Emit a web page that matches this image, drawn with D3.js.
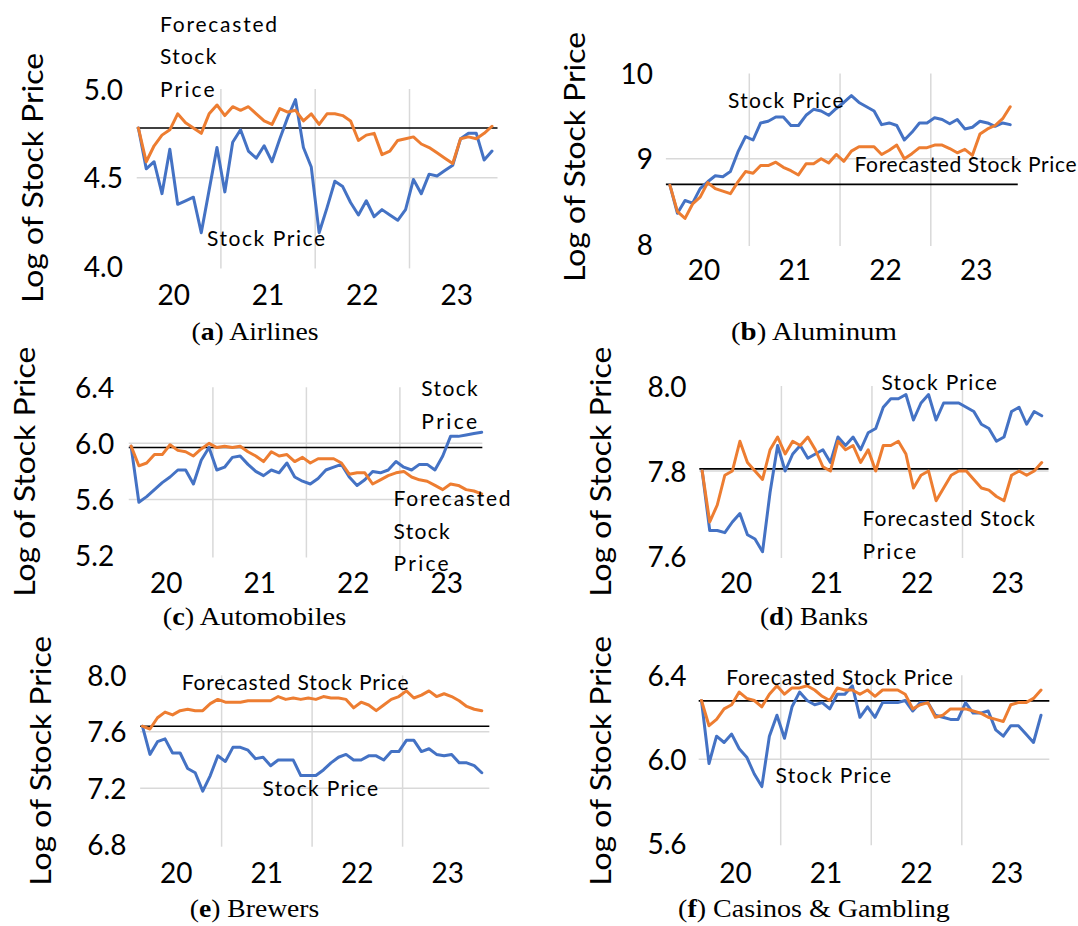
<!DOCTYPE html>
<html><head><meta charset="utf-8">
<script src="https://cdn.jsdelivr.net/npm/d3@7"></script>
<style>body{margin:0;background:#fff}svg{display:block}</style>
</head><body>
<svg id="chart" width="1078" height="926"></svg>
<script>
// ---------- data ----------
const monthIndex = d3.range(46);
const yearLabels = ["20", "21", "22", "23"];
const yearCenters = [4.5, 16.5, 28.5, 40.5];
const yearBreaks = [10.5, 22.5, 34.5];

const airlinesStock = [4.78,4.55,4.59,4.41,4.66,4.35,4.37,4.39,4.19,4.43,4.67,4.42,4.70,4.77,4.65,4.61,4.68,4.59,4.72,4.84,4.94,4.67,4.56,4.19,4.33,4.48,4.45,4.36,4.29,4.37,4.28,4.32,4.29,4.26,4.32,4.49,4.41,4.52,4.51,4.54,4.57,4.72,4.75,4.75,4.60,4.65];
const airlinesForecast = [4.78,4.59,4.68,4.74,4.77,4.86,4.81,4.78,4.75,4.86,4.91,4.85,4.90,4.88,4.90,4.86,4.82,4.80,4.89,4.87,4.88,4.82,4.86,4.80,4.86,4.86,4.85,4.82,4.71,4.74,4.75,4.63,4.65,4.71,4.72,4.73,4.69,4.67,4.64,4.61,4.58,4.72,4.73,4.72,4.75,4.79];

const aluminumStock = [8.69,8.36,8.51,8.48,8.65,8.73,8.80,8.79,8.85,9.08,9.26,9.22,9.42,9.44,9.49,9.49,9.39,9.39,9.51,9.58,9.56,9.51,9.59,9.66,9.74,9.66,9.61,9.56,9.40,9.42,9.39,9.22,9.31,9.42,9.42,9.48,9.46,9.41,9.46,9.35,9.37,9.44,9.42,9.38,9.42,9.40];
const aluminumForecast = [8.69,8.38,8.30,8.47,8.55,8.72,8.65,8.62,8.59,8.73,8.85,8.83,8.92,8.92,8.96,8.90,8.86,8.81,8.94,8.94,9.00,8.95,9.05,8.97,9.09,9.14,9.14,9.14,9.05,9.10,9.16,9.00,9.06,9.13,9.13,9.16,9.16,9.12,9.07,9.11,9.04,9.29,9.35,9.39,9.47,9.61];

const autoStock = [5.98,5.58,5.62,5.67,5.72,5.76,5.81,5.81,5.71,5.88,5.97,5.81,5.83,5.90,5.91,5.85,5.80,5.77,5.81,5.79,5.86,5.76,5.73,5.71,5.75,5.81,5.83,5.85,5.76,5.70,5.74,5.80,5.79,5.81,5.87,5.83,5.81,5.85,5.85,5.81,5.91,6.05,6.05,6.06,6.07,6.08];
const autoForecast = [5.98,5.84,5.86,5.92,5.92,5.99,5.95,5.94,5.91,5.96,6.00,5.97,5.98,5.97,5.98,5.94,5.91,5.87,5.94,5.91,5.92,5.87,5.90,5.86,5.89,5.89,5.89,5.86,5.78,5.79,5.79,5.71,5.74,5.77,5.79,5.80,5.76,5.74,5.73,5.70,5.67,5.71,5.70,5.67,5.66,5.64];

const banksStock = [7.80,7.66,7.66,7.655,7.68,7.70,7.65,7.64,7.61,7.75,7.86,7.80,7.84,7.86,7.83,7.84,7.85,7.82,7.88,7.86,7.88,7.85,7.89,7.90,7.95,7.97,7.97,7.98,7.92,7.96,7.98,7.92,7.96,7.96,7.96,7.95,7.94,7.91,7.90,7.87,7.88,7.94,7.95,7.91,7.94,7.93];
const banksForecast = [7.80,7.68,7.72,7.79,7.80,7.87,7.82,7.80,7.78,7.85,7.88,7.84,7.87,7.86,7.88,7.85,7.81,7.80,7.87,7.85,7.86,7.82,7.85,7.80,7.86,7.86,7.87,7.84,7.76,7.79,7.80,7.73,7.76,7.79,7.80,7.80,7.78,7.76,7.755,7.74,7.73,7.79,7.80,7.79,7.80,7.82];

const brewersStock = [7.64,7.44,7.53,7.55,7.45,7.45,7.34,7.31,7.18,7.29,7.43,7.39,7.49,7.49,7.47,7.41,7.42,7.36,7.40,7.40,7.40,7.29,7.29,7.29,7.33,7.38,7.42,7.44,7.40,7.40,7.43,7.43,7.40,7.46,7.46,7.54,7.54,7.46,7.48,7.44,7.43,7.44,7.38,7.38,7.36,7.31];
const brewersForecast = [7.64,7.62,7.70,7.74,7.72,7.75,7.76,7.75,7.75,7.80,7.83,7.81,7.81,7.81,7.82,7.82,7.82,7.82,7.85,7.83,7.84,7.83,7.84,7.83,7.85,7.84,7.84,7.83,7.77,7.81,7.79,7.75,7.79,7.83,7.85,7.89,7.84,7.86,7.89,7.85,7.87,7.85,7.82,7.78,7.76,7.75];

const casinosStock = [6.28,5.98,6.11,6.08,6.12,6.05,6.01,5.93,5.87,6.11,6.21,6.10,6.25,6.32,6.28,6.26,6.27,6.24,6.31,6.31,6.35,6.20,6.25,6.20,6.27,6.27,6.27,6.28,6.23,6.27,6.27,6.21,6.20,6.19,6.19,6.27,6.22,6.22,6.23,6.14,6.11,6.16,6.16,6.12,6.08,6.21];
const casinosForecast = [6.28,6.16,6.19,6.24,6.26,6.32,6.29,6.28,6.25,6.31,6.35,6.31,6.34,6.34,6.35,6.33,6.30,6.28,6.34,6.33,6.33,6.31,6.33,6.30,6.33,6.33,6.33,6.31,6.24,6.26,6.27,6.20,6.21,6.24,6.24,6.24,6.23,6.22,6.20,6.19,6.18,6.26,6.27,6.27,6.29,6.33];

const referenceLevels = [4.78, 8.70, 5.97, 7.805, 7.64, 6.278];
const panelLetters = ["a", "b", "c", "d", "e", "f"];
const panelNames = ["Airlines", "Aluminum", "Automobiles", "Banks", "Brewers", "Casinos & Gambling"];
const yDomains = [[4, 5], [8, 10], [5.2, 6.4], [7.6, 8.0], [6.8, 8.0], [5.6, 6.4]];
const yTickValues = [[4.0, 4.5, 5.0], [8, 9, 10], [5.2, 5.6, 6.0, 6.4], [7.6, 7.8, 8.0], [6.8, 7.2, 7.6, 8.0], [5.6, 6.0, 6.4]];
const yTickFormats = [".1f", "d", ".1f", ".1f", ".1f", ".1f"];
const stockSeries = [airlinesStock, aluminumStock, autoStock, banksStock, brewersStock, casinosStock];
const forecastSeries = [airlinesForecast, aluminumForecast, autoForecast, banksForecast, brewersForecast, casinosForecast];
const stockNoteLines = [["Stock Price"], ["Stock Price"], ["Stock", "Price"], ["Stock Price"], ["Stock Price"], ["Stock Price"]];
const forecastNoteLines = [["Forecasted", "Stock", "Price"], ["Forecasted Stock Price"], ["Forecasted", "Stock", "Price"], ["Forecasted Stock", "Price"], ["Forecasted Stock Price"], ["Forecasted Stock Price"]];
const axisTitle = "Log of Stock Price";

// ---------- layout (positions / sizes only) ----------
const layout = [
  {g1: 220.9, g3: 409.5, xl: -0.21, xr: 45.7, yr: [266.4, 89], tickR: 122.9, titleX: 43.3, titleY: 178, yearY: 305, capX: 255, capY: 340, capW: 127,
   stockNote: {x: 207, y: 245.7, w: [118]}, fcNote: {x: 160, y: 31.7, w: [117, 56.4, 54.7]}},
  {g1: 749.3, g3: 930.8, xl: -0.53, xr: 46.0, yr: [244, 73.5], tickR: 653.1, titleX: 584.8, titleY: 157, yearY: 280, capX: 814, capY: 340, capW: 166,
   stockNote: {x: 728, y: 108.3, w: [115.5]}, fcNote: {x: 854.5, y: 172.3, w: [222]}},
  {g1: 212.9, g3: 399.9, xl: -0.3, xr: 45.08, yr: [555.5, 387.3], tickR: 114.2, titleX: 34.6, titleY: 471.7, yearY: 593.3, capX: 254.5, capY: 625, capW: 183.5,
   stockNote: {x: 421.3, y: 396, w: [56.4, 55.7]}, fcNote: {x: 393.6, y: 506, w: [117, 56, 55]}},
  {g1: 781.4, g3: 962.5, xl: -0.38, xr: 45.9, yr: [556, 386], tickR: 686.6, titleX: 610.7, titleY: 471.7, yearY: 593.3, capX: 814, capY: 625, capW: 108,
   stockNote: {x: 881.4, y: 390, w: [115.5]}, fcNote: {x: 862.5, y: 526, w: [172.5, 53.5]}},
  {g1: 221.6, g3: 402.6, xl: -0.3, xr: 46.0, yr: [844.7, 675.4], tickR: 126.4, titleX: 51.2, titleY: 760.8, yearY: 883.3, capX: 254.5, capY: 916.5, capW: 129.5,
   stockNote: {x: 262.4, y: 795.7, w: [115.6]}, fcNote: {x: 181.7, y: 690, w: [226.8]}},
  {g1: 780.7, g3: 961.8, xl: -0.37, xr: 46.1, yr: [843.3, 675.3], tickR: 686.6, titleX: 610.7, titleY: 760.8, yearY: 883.3, capX: 814, capY: 916.5, capW: 271.8,
   stockNote: {x: 775.6, y: 782.7, w: [115.5]}, fcNote: {x: 726.2, y: 685, w: [226.6]}}
];
const noteLineHeight = 32.5;

const BLUE = "#4472C4", ORANGE = "#ED7D31", GRID = "#D9D9D9";
const SANS = "Lato, 'Open Sans', sans-serif";
const SERIF = "'Liberation Serif', 'DejaVu Serif', serif";

const svg = d3.select("#chart");

panelLetters.forEach((letter, p) => {
  const L = layout[p];
  const x = d3.scaleLinear().domain([yearBreaks[0], yearBreaks[2]]).range([L.g1, L.g3]);
  const y = d3.scaleLinear().domain(yDomains[p]).range(L.yr);
  const g = svg.append("g");
  const xLeft = x(L.xl), xRight = x(L.xr);
  const yTop = y(yDomains[p][1]), yBot = y(yDomains[p][0]);

  // horizontal inner gridlines
  const inner = yTickValues[p].slice(1, -1);
  g.selectAll(".hg").data(inner).join("line")
    .attr("x1", xLeft).attr("x2", xRight)
    .attr("y1", d => y(d)).attr("y2", d => y(d))
    .attr("stroke", GRID).attr("stroke-width", 1.5);

  // vertical year gridlines
  g.selectAll(".vg").data(yearBreaks).join("line")
    .attr("x1", d => x(d)).attr("x2", d => x(d))
    .attr("y1", yTop).attr("y2", yBot + 2)
    .attr("stroke", GRID).attr("stroke-width", 1.5);

  // reference line (starting value)
  g.append("line")
    .attr("x1", xLeft).attr("x2", xRight)
    .attr("y1", y(referenceLevels[p])).attr("y2", y(referenceLevels[p]))
    .attr("stroke", "#000").attr("stroke-width", 1.6);

  // y axis ticks
  const fmt = d3.format(yTickFormats[p]);
  const yAxis = d3.axisLeft(y).tickValues(yTickValues[p]).tickFormat(fmt).tickSize(0).tickPadding(0);
  const ya = g.append("g").attr("transform", `translate(${L.tickR},0)`).call(yAxis);
  ya.select(".domain").remove();
  ya.selectAll("text").attr("font-family", SANS).attr("font-size", 28).attr("fill", "#000")
    .attr("dy", "0.36em").attr("x", 0);

  // x axis year labels
  g.selectAll(".yl").data(yearLabels).join("text")
    .attr("x", (d, i) => x(yearCenters[i])).attr("y", L.yearY)
    .attr("text-anchor", "middle").attr("font-family", SANS).attr("font-size", 28).attr("fill", "#000")
    .text(d => d);

  // y axis title
  g.append("text")
    .attr("transform", `translate(${L.titleX},${L.titleY}) rotate(-90)`)
    .attr("text-anchor", "middle").attr("font-family", SANS).attr("font-size", 28).attr("fill", "#000")
    .attr("textLength", 250).attr("lengthAdjust", "spacingAndGlyphs")
    .text(axisTitle);

  // series lines
  const line = d3.line().x((d, i) => x(monthIndex[i])).y(d => y(d));
  g.append("path").datum(stockSeries[p]).attr("d", line)
    .attr("fill", "none").attr("stroke", BLUE).attr("stroke-width", 3).attr("stroke-linejoin", "round").attr("stroke-linecap", "round");
  g.append("path").datum(forecastSeries[p]).attr("d", line)
    .attr("fill", "none").attr("stroke", ORANGE).attr("stroke-width", 3).attr("stroke-linejoin", "round").attr("stroke-linecap", "round");

  // annotations
  const note = (lines, spec) => {
    lines.forEach((t, k) => {
      g.append("text").attr("x", spec.x).attr("y", spec.y + k * noteLineHeight)
        .attr("font-family", SANS).attr("font-size", 21).attr("fill", "#000")
        .attr("textLength", spec.w[k]).attr("lengthAdjust", "spacing")
        .text(t);
    });
  };
  note(stockNoteLines[p], L.stockNote);
  note(forecastNoteLines[p], L.fcNote);

  // caption
  const cap = g.append("text").attr("x", L.capX - L.capW / 2).attr("y", L.capY)
    .attr("font-family", SERIF).attr("font-size", 25).attr("fill", "#000")
    .attr("textLength", L.capW).attr("lengthAdjust", "spacingAndGlyphs");
  cap.append("tspan").text("(");
  cap.append("tspan").attr("font-weight", "bold").text(letter);
  cap.append("tspan").text(") " + panelNames[p]);
});
</script>
</body></html>
